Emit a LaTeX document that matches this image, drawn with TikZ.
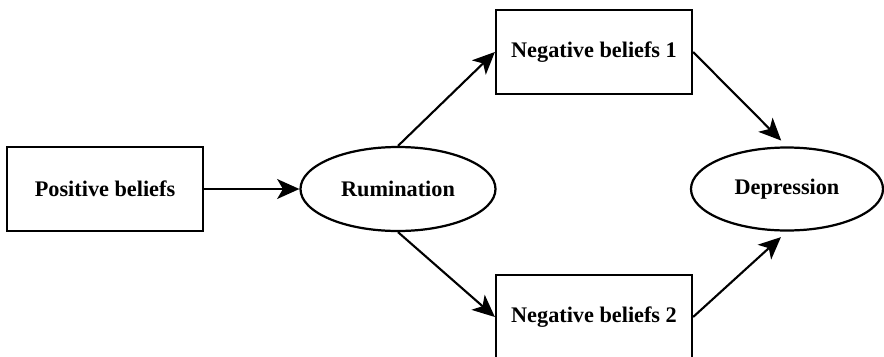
\documentclass[tikz,border=0pt]{standalone}
\usepackage{fontspec}
\setmainfont{Liberation Serif}
\usetikzlibrary{arrows.meta,shapes.geometric}

\begin{document}
\begin{tikzpicture}[x=0.03cm,y=-0.03cm,
  box/.style={draw,line width=1.9pt,inner sep=0pt,minimum width=5.88cm,minimum height=2.52cm,font=\fontsize{19}{22}\selectfont\bfseries},
  oval/.style={draw,ellipse,line width=1.9pt,inner sep=0pt,minimum width=5.85cm,minimum height=2.52cm,font=\fontsize{19}{22}\selectfont\bfseries}]

\useasboundingbox (0,0) rectangle (884,356);
\clip (0,0) rectangle (884,356);

\node[box] (pos) at (105,189) {Positive beliefs};
\node[oval] (rum) at (398,189) {Rumination};
\node[box] (nb1) at (594,52) {Negative beliefs 1};
\node[box] (nb2) at (594,317) {Negative beliefs 2};
\node[oval,minimum width=5.76cm,minimum height=2.49cm] (dep) at (787,189) {Depression};

\path[-{Stealth[length=19pt,width=17pt,inset=5pt]},line width=1.8pt]
  (pos) edge (rum)
  (rum.north) edge (nb1.west)
  (rum.south) edge (nb2.west)
  (nb1.east) edge[shorten >=7pt] (dep.north)
  (nb2.east) edge[shorten >=7pt] (dep.south);

\end{tikzpicture}
\end{document}
